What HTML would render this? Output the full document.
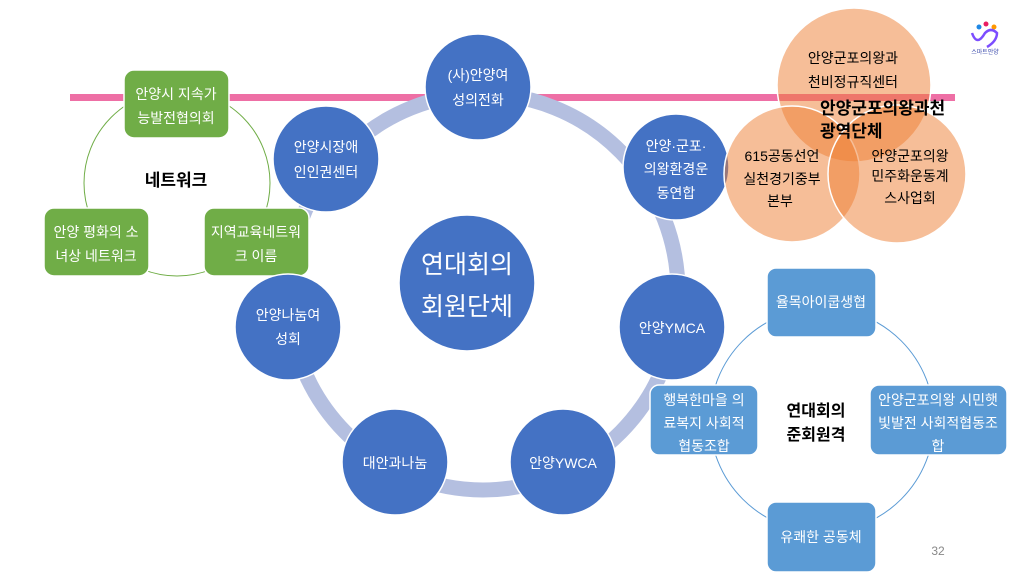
<!DOCTYPE html>
<html><head><meta charset="utf-8"><style>
body{margin:0;background:#fff}
svg text{font-family:"Liberation Sans","Noto Sans CJK KR",sans-serif}
</style></head><body>
<svg width="1024" height="576" viewBox="0 0 1024 576" xmlns="http://www.w3.org/2000/svg">
<rect x="70" y="94" width="885" height="7" fill="#ee6fa5"/>
<!-- main ring -->
<ellipse cx="483" cy="292" rx="195" ry="198" fill="none" stroke="#b4bfe0" stroke-width="15"/>
<!-- left network -->
<circle cx="177" cy="183" r="93" fill="none" stroke="#70ad47" stroke-width="1"/>
<g fill="#70ad47" stroke="#fff" stroke-width="1.5">
<rect x="124" y="70" width="105" height="68" rx="10"/>
<rect x="44" y="208" width="105" height="68" rx="10"/>
<rect x="204" y="208" width="105" height="68" rx="10"/>
</g>
<g fill="#fff" font-size="14" text-anchor="middle">
<text x="176" y="99">안양시 지속가</text><text x="176" y="123">능발전협의회</text>
<text x="96" y="237">안양 평화의 소</text><text x="96" y="261">녀상 네트워크</text>
<text x="256" y="237">지역교육네트워</text><text x="256" y="261">크 이름</text>
</g>
<text x="176" y="186" font-size="17" font-weight="bold" text-anchor="middle">네트워크</text>
<g fill="#4472c4" stroke="#fff" stroke-width="1.5">
<circle cx="478" cy="87" r="53"/>
<circle cx="326" cy="159" r="53"/>
<circle cx="676" cy="167" r="53"/>
<circle cx="288" cy="327" r="53"/>
<circle cx="672" cy="327" r="53"/>
<circle cx="395" cy="462" r="53"/>
<circle cx="563" cy="462" r="53"/>
<circle cx="467" cy="283" r="68"/>
</g>
<g fill="#fff" font-size="14" text-anchor="middle">
<text x="478" y="80">(사)안양여</text><text x="478" y="105">성의전화</text>
<text x="326" y="152">안양시장애</text><text x="326" y="177">인인권센터</text>
<text x="676" y="151">안양·군포·</text><text x="676" y="174">의왕환경운</text><text x="676" y="198">동연합</text>
<text x="288" y="320">안양나눔여</text><text x="288" y="344">성회</text>
<text x="672" y="333">안양YMCA</text>
<text x="395" y="468">대안과나눔</text>
<text x="563" y="468">안양YWCA</text>
<text x="467" y="273" font-size="25">연대회의</text><text x="467" y="315" font-size="25">회원단체</text>
</g>
<!-- venn -->
<g fill="rgba(237,125,49,0.5)" stroke="#fff" stroke-width="1.5">
<circle cx="854" cy="85" r="77"/>
<circle cx="792" cy="174" r="68"/>
<circle cx="897" cy="174" r="69"/>
</g>
<g font-size="14" text-anchor="middle" fill="#000">
<text x="853" y="63">안양군포의왕과</text><text x="853" y="87">천비정규직센터</text>
<text x="782" y="161">615공동선언</text><text x="782" y="184">실천경기중부</text><text x="780" y="206">본부</text>
<text x="910" y="161">안양군포의왕</text><text x="910" y="181">민주화운동계</text><text x="910" y="203">스사업회</text>
</g>
<text x="820" y="114" font-size="17" font-weight="bold">안양군포의왕과천</text>
<text x="820" y="137" font-size="17" font-weight="bold">광역단체</text>
<!-- logo -->
<g>
<circle cx="979" cy="27" r="2.5" fill="#1e88e5"/><circle cx="986" cy="24" r="2.5" fill="#e91e63"/><circle cx="994" cy="27" r="2.5" fill="#ff9800"/>
<path d="M972 33 q5 14 13 0 q6 -6 12 0 q0 8 -10 14" fill="none" stroke="#7c4dff" stroke-width="2.5"/>
<text x="985" y="54" font-size="6" fill="#3949ab" text-anchor="middle">스마트안양</text>
</g>
<!-- bottom right -->
<circle cx="822" cy="420" r="112" fill="none" stroke="#5b9bd5" stroke-width="1"/>
<g fill="#5b9bd5" stroke="#fff" stroke-width="1.5">
<rect x="767" y="268" width="109" height="69" rx="9"/>
<rect x="650" y="385" width="108" height="70" rx="9"/>
<rect x="870" y="385" width="137" height="70" rx="9"/>
<rect x="767" y="502" width="109" height="70" rx="9"/>
</g>
<g fill="#fff" font-size="14" text-anchor="middle">
<text x="821" y="307">율목아이쿱생협</text>
<text x="704" y="405">행복한마을 의</text><text x="704" y="428">료복지 사회적</text><text x="704" y="451">협동조합</text>
<text x="938" y="405">안양군포의왕 시민햇</text><text x="938" y="428">빛발전 사회적협동조</text><text x="938" y="451">합</text>
<text x="821" y="542">유쾌한 공동체</text>
</g>
<text x="816" y="416" font-size="16" font-weight="bold" text-anchor="middle">연대회의</text>
<text x="816" y="440" font-size="16" font-weight="bold" text-anchor="middle">준회원격</text>
<text x="938" y="555" font-size="12" fill="#888" text-anchor="middle">32</text>
</svg>
</body></html>
